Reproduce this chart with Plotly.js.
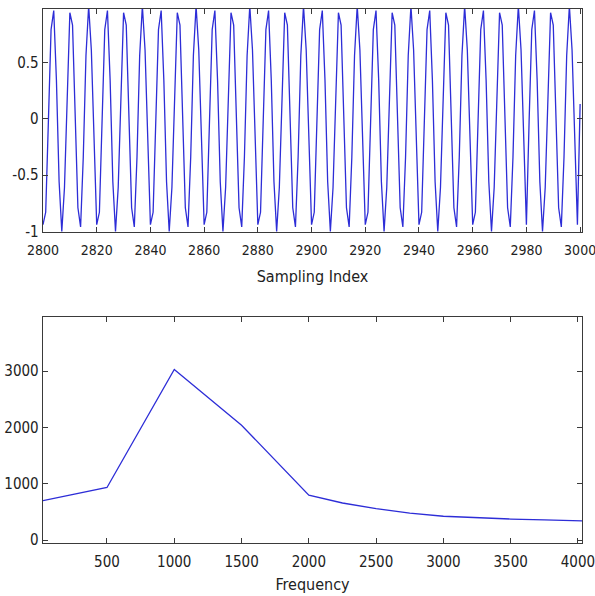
<!DOCTYPE html>
<html>
<head>
<meta charset="utf-8">
<script src="https://cdn.plot.ly/plotly-3.0.1.min.js"></script>
<style>html,body{margin:0;padding:0;background:#fff;}#chart{width:595px;height:596px;}</style>
</head>
<body>
<div id="chart"></div>
<script>
const sampleStart = 2800;
const signalValues = [
 -0.94,-0.83,-0.03,0.79,0.96,0.34,-0.56,-1.0,-0.61,0.28,0.94,0.83,0.03,-0.79,-0.96,-0.34,0.56,1.0,0.61,-0.28,
 -0.94,-0.83,-0.03,0.79,0.96,0.34,-0.56,-1.0,-0.61,0.28,0.94,0.83,0.03,-0.79,-0.96,-0.34,0.56,1.0,0.61,-0.28,
 -0.94,-0.83,-0.03,0.79,0.96,0.34,-0.56,-1.0,-0.61,0.28,0.94,0.83,0.03,-0.79,-0.96,-0.34,0.56,1.0,0.61,-0.28,
 -0.94,-0.83,-0.03,0.79,0.96,0.34,-0.56,-1.0,-0.61,0.28,0.94,0.83,0.03,-0.79,-0.96,-0.34,0.56,1.0,0.61,-0.28,
 -0.94,-0.83,-0.03,0.79,0.96,0.34,-0.56,-1.0,-0.61,0.28,0.94,0.83,0.03,-0.79,-0.96,-0.34,0.56,1.0,0.61,-0.28,
 -0.94,-0.83,-0.03,0.79,0.96,0.34,-0.56,-1.0,-0.61,0.28,0.94,0.83,0.03,-0.79,-0.96,-0.34,0.56,1.0,0.61,-0.28,
 -0.94,-0.83,-0.03,0.79,0.96,0.34,-0.56,-1.0,-0.61,0.28,0.94,0.83,0.03,-0.79,-0.96,-0.34,0.56,1.0,0.61,-0.28,
 -0.94,-0.83,-0.03,0.79,0.96,0.34,-0.56,-1.0,-0.61,0.28,0.94,0.83,0.03,-0.79,-0.96,-0.34,0.56,1.0,0.61,-0.28,
 -0.94,-0.83,-0.03,0.79,0.96,0.34,-0.56,-1.0,-0.61,0.28,0.94,0.83,0.03,-0.79,-0.96,-0.34,0.56,1.0,0.61,-0.28,
 -0.94,-0.03,0.79,0.96,0.34,-0.56,-1.0,-0.61,0.28,0.94,0.83,0.03,-0.79,-0.96,-0.34,0.56,1.0,0.61,-0.28,-0.94,
 0.13
];
const sampleIndex = signalValues.map((_, i) => sampleStart + i);

// Bottom panel: spectrum magnitude vs frequency
const frequency = [24.5, 500, 1000, 1500, 2000, 2250, 2500, 2750, 3000, 3250, 3500, 3750, 4030];
const magnitude = [700, 935, 3030, 2040, 800, 660, 560, 480, 425, 395, 375, 360, 343];

// Tick labels
const topXTicks = [2800, 2820, 2840, 2860, 2880, 2900, 2920, 2940, 2960, 2980, 3000];
const topYTicks = [-1, -0.5, 0, 0.5];
const topYTickText = ['-1', '-0.5', '0', '0.5'];
const botXTicks = [500, 1000, 1500, 2000, 2500, 3000, 3500, 4000];
const botYTicks = [0, 1000, 2000, 3000];

const FONT = '"DejaVu Sans Condensed", "Liberation Sans Narrow", "Liberation Sans", Arial, sans-serif';
const FSIZE = 15;
const lineColor = 'rgb(45,45,215)';
const axisColor = '#3a3a3a';

const axisBase = {
  showline: true, linecolor: axisColor, linewidth: 1.3, mirror: 'ticks',
  ticks: 'inside', ticklen: 5, tickwidth: 1, tickcolor: axisColor,
  showgrid: false, zeroline: false,
  tickfont: {family: FONT, size: FSIZE, color: '#222'},
  ticklabeloverflow: 'allow',
  fixedrange: true
};

const traces = [
  {x: sampleIndex, y: signalValues, type: 'scatter', mode: 'lines',
   line: {color: lineColor, width: 1.3}, xaxis: 'x', yaxis: 'y', hoverinfo: 'skip'},
  {x: frequency, y: magnitude, type: 'scatter', mode: 'lines',
   line: {color: lineColor, width: 1.3}, xaxis: 'x2', yaxis: 'y2', hoverinfo: 'skip'}
];

const layout = {
  width: 595, height: 596,
  margin: {l: 0, r: 0, t: 0, b: 0},
  paper_bgcolor: '#fff', plot_bgcolor: '#fff',
  showlegend: false,
  xaxis: Object.assign({}, axisBase, {
    domain: [43/595, 582/595], anchor: 'y',
    range: [2800, 3000.7], tickvals: topXTicks, ticklabelstandoff: 5,
    tickfont: {family: FONT, size: 14, color: '#222'},
    title: {text: 'Sampling Index', font: {family: FONT, size: 16, color: '#222'}, standoff: 13}
  }),
  yaxis: Object.assign({}, axisBase, {
    domain: [(596-232)/596, (596-9)/596], anchor: 'x',
    range: [-1.005, 0.973], tickvals: topYTicks, ticktext: topYTickText
  }),
  xaxis2: Object.assign({}, axisBase, {
    domain: [43/595, 582/595], anchor: 'y2',
    range: [24.5, 4030], tickvals: botXTicks, ticklabelstandoff: 5,
    title: {text: 'Frequency', font: {family: FONT, size: 16, color: '#222'}, standoff: 8}
  }),
  yaxis2: Object.assign({}, axisBase, {
    domain: [(596-543)/596, (596-317)/596], anchor: 'x2',
    range: [-50, 3960], tickvals: botYTicks
  })
};

Plotly.newPlot('chart', traces, layout, {displayModeBar: false, staticPlot: true});
</script>
</body>
</html>
